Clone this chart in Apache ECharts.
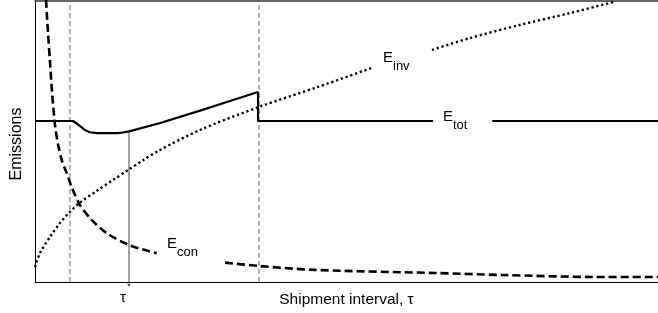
<!DOCTYPE html>
<html>
<head>
<meta charset="utf-8">
<script src="https://cdn.jsdelivr.net/npm/echarts@6/dist/echarts.min.js"></script>
<style>
  html, body { margin: 0; padding: 0; background: #fff; }
  #chart { width: 658px; height: 313px; }
</style>
</head>
<body>
<div id="chart"></div>
<script>
// values, both axes on a 0-100 scale (no ticks in the original)
// total emissions (solid), null = gap left for the label
var totX = [0, 6.1, 6.7, 7.4, 8.0, 8.8, 9.95, 13.3, 14.1, 15.1, 20.1, 26.5, 31.3, 35.8, 35.8, 63.9, 68, 73.4, 100];
var totY = [57.3, 57.3, 56.4, 55.2, 54.1, 53.3, 53.0, 53.0, 53.2, 53.6, 56.6, 61.0, 64.4, 67.6, 57.3, 57.3, null, 57.3, 57.3];

// inventory emissions (dotted)
var invX = [0, 0.8, 2.41, 4.01, 5.62, 7.22, 9.9, 12.52, 15.04, 17.34, 19.74, 26.48, 35.95, 45.26, 54.09, 58, 63.72, 69.82, 77.85, 85.87, 93.1];
var invY = [5.3, 10.3, 16.1, 21.0, 25.0, 28.3, 32.4, 36.3, 40.0, 43.3, 46.6, 54.1, 62.3, 69.3, 76.2, null, 82.6, 86.8, 91.5, 95.7, 99.8];

// consumption emissions (dashed)
var conX = [1.77, 2.09, 2.41, 2.73, 3.21, 3.69, 4.33, 5.09, 5.89, 7.22, 9.1, 11.51, 15.04, 19.53, 25, 30.5, 35.96, 45.1, 64.21, 74.96, 90.05, 100];
var conY = [100.4, 88.6, 78.3, 67.6, 55.9, 49.1, 43.1, 38.8, 33.8, 27.4, 22.1, 17.4, 13.2, 10.2, null, 6.9, 5.7, 4.3, 3.2, 2.5, 1.8, 1.8];

// guide lines: dashed bounds and the optimum tau*
var boundX = [5.62, 35.96];
var tauStar = 15.09;
var tauStarY = 53.6;

function pairs(xs, ys) {
  return xs.map(function (x, i) { return [x, ys[i] == null ? '-' : ys[i]]; });
}

var FONT = '"Liberation Sans", Arial, sans-serif';

function subLabel(main, sub, cx, cy) {
  // E with a subscript, placed by hand like in the figure
  return [
    { type: 'text', x: cx, y: cy, z: 100,
      style: { text: main, font: '15px ' + FONT, fill: '#000', align: 'center', verticalAlign: 'middle' } },
    { type: 'text', x: cx + 5, y: cy + 8, z: 100,
      style: { text: sub, font: '13px ' + FONT, fill: '#000', align: 'left', verticalAlign: 'middle' } }
  ];
}

var chart = echarts.init(document.getElementById('chart'));

var guideSeries = boundX.map(function (x) {
  return {
    type: 'line', silent: true, symbol: 'none', z: 1,
    data: [[x, 0], [x, 100]],
    lineStyle: { color: '#666', width: 1, type: [5, 3] }
  };
});

chart.setOption({
  animation: false,
  grid: { left: 35, right: 0, top: 1, bottom: 31 },
  xAxis: [
    {
      type: 'value', min: 0, max: 100,
      name: 'Shipment interval, τ',
      nameLocation: 'middle', nameGap: 10,
      nameTextStyle: { fontFamily: FONT, fontSize: 15.5, color: '#000' },
      axisLine: { show: true, lineStyle: { color: '#000', width: 1 } },
      axisTick: { show: false }, axisLabel: { show: false }, splitLine: { show: false }
    },
    {
      type: 'value', min: 0, max: 100, position: 'top',
      axisLine: { show: true, lineStyle: { color: '#333', width: 1.5 } },
      axisTick: { show: false }, axisLabel: { show: false }, splitLine: { show: false }
    }
  ],
  yAxis: {
    type: 'value', min: 0, max: 100,
    name: 'Emissions',
    nameLocation: 'middle', nameGap: 10, nameRotate: 90,
    nameTextStyle: { fontFamily: FONT, fontSize: 16, color: '#000', padding: [0, 0, 0, -5] },
    axisLine: { show: true, lineStyle: { color: '#000', width: 1 } },
    axisTick: { show: false }, axisLabel: { show: false }, splitLine: { show: false }
  },
  series: guideSeries.concat([
    {
      type: 'line', silent: true, symbol: 'none', z: 1,
      data: [[tauStar, 0], [tauStar, tauStarY]],
      lineStyle: { color: '#808080', width: 1.5 }
    },
    {
      name: 'E_con', type: 'line', symbol: 'none', smooth: 0.3, z: 3,
      data: pairs(conX, conY),
      lineStyle: { color: '#000', width: 2.6, type: [8, 4] }
    },
    {
      name: 'E_inv', type: 'line', symbol: 'none', smooth: 0.3, z: 3,
      data: pairs(invX, invY),
      lineStyle: { color: '#000', width: 2.4, type: [2.2, 2.8], cap: 'butt' }
    },
    {
      name: 'E_tot', type: 'line', symbol: 'none', z: 4,
      data: pairs(totX, totY),
      lineStyle: { color: '#000', width: 2.2 }
    }
  ]),
  graphic: []
    .concat(subLabel('E', 'inv', 388, 58))
    .concat(subLabel('E', 'tot', 448, 117))
    .concat(subLabel('E', 'con', 172, 244))
    .concat([
      { type: 'text', x: 123, y: 298, z: 100,
        style: { text: 'τ', font: '15px ' + FONT, fill: '#000', align: 'center', verticalAlign: 'middle' } },
      { type: 'text', x: 129, y: 287, z: 100,
        style: { text: '*', font: '9px ' + FONT, fill: '#000', align: 'center', verticalAlign: 'middle' } }
    ])
});
</script>
</body>
</html>
